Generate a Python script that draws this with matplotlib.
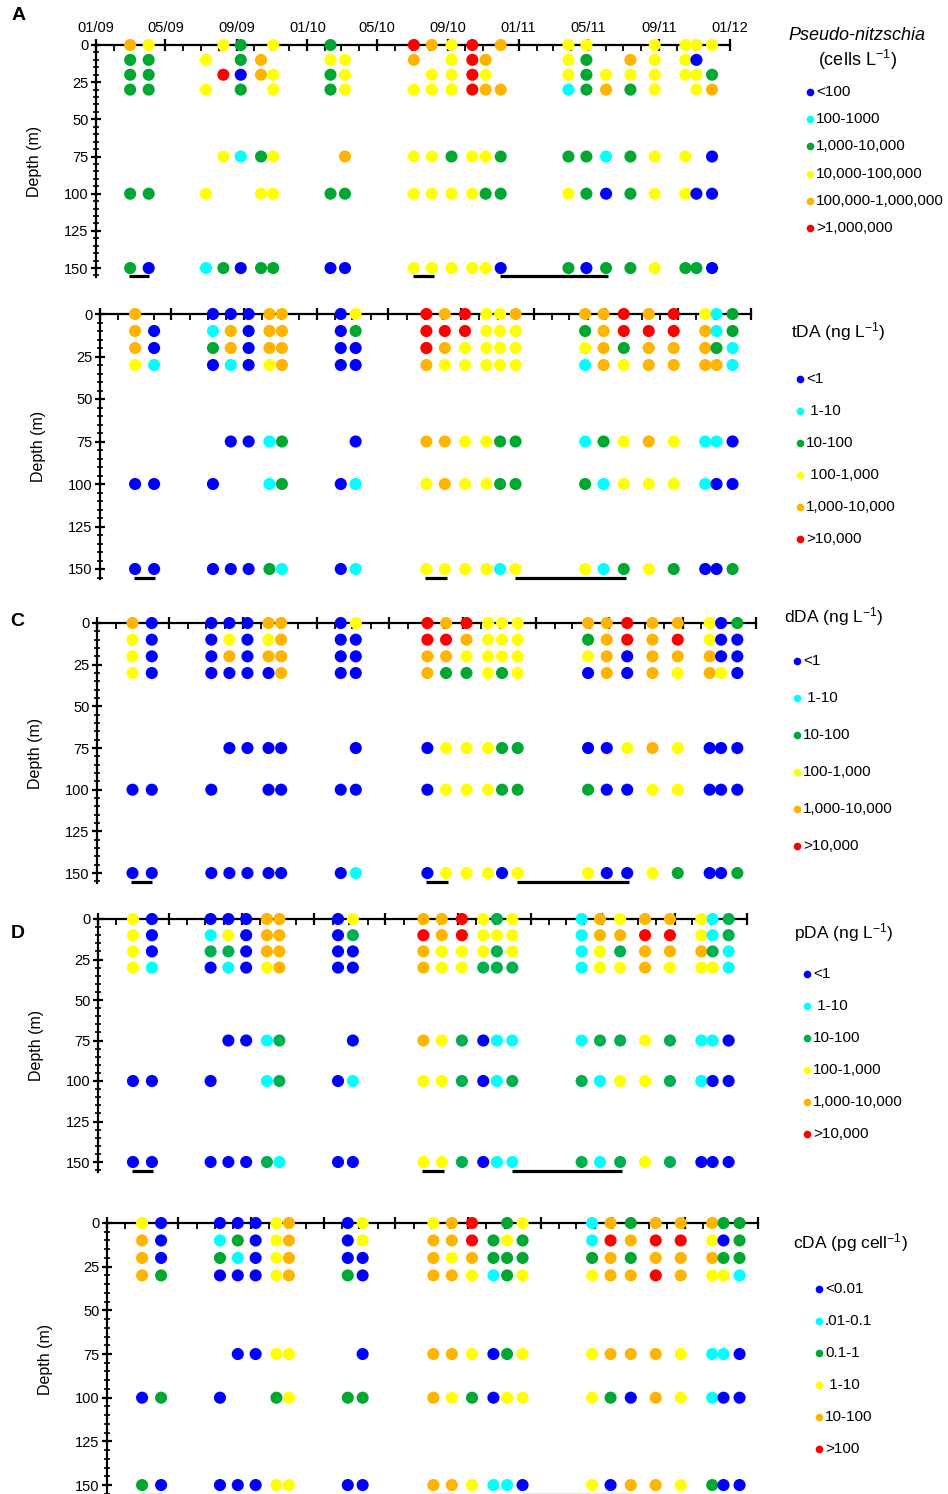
import datetime as dt
import matplotlib
matplotlib.use('Agg')
import matplotlib.pyplot as plt
import matplotlib.dates as mdates
from matplotlib.ticker import MultipleLocator

plt.rcParams['font.family'] = ['Liberation Sans', 'DejaVu Sans']
plt.rcParams['mathtext.fontset'] = 'custom'
plt.rcParams['mathtext.rm'] = 'Liberation Sans'
plt.rcParams['mathtext.it'] = 'Liberation Sans:italic'

# cruise dates and sampled depths
cruise_dates = ['2009-03-01', '2009-04-02', '2009-07-10', '2009-08-09', '2009-09-08',
                '2009-10-13', '2009-11-03', '2010-02-10', '2010-03-07', '2010-07-04',
                '2010-08-04', '2010-09-07', '2010-10-13', '2010-11-05', '2010-12-01',
                '2011-03-28', '2011-04-28', '2011-06-01', '2011-07-13', '2011-08-24',
                '2011-10-16', '2011-11-04', '2011-12-01']
depths = [0, 10, 20, 30, 75, 100, 150]

# concentration class per cruise, one string per depth (0 = lowest class, '.' = no sample)
pn_cells = ['43.32.32.5435.433..3333',
            '223.24.334.354.32.4330.',
            '22.504323.3353.32333332',
            '223.2.32333354412423.34',
            '...3123.4332332221233.0',
            '223..332233332232023300',
            '20120220033333020223220']
tda = ['4.000440354533444545312',
       '40140440255533324555412',
       '40240440054333334244421',
       '31010340043333314344441',
       '...0012.044332212343110',
       '000..120134332221333100',
       '00000210133331331232002']
dda = ['40000440354533344544302',
       '30030340055433324545300',
       '30040440044333334044400',
       '30000040042232304043430',
       '...0000.003332200343000',
       '000..000003332220033000',
       '00000000103330330032002']
pda = ['30000440344532314344312',
       '30130440254533314455312',
       '30220440043332313244421',
       '31010340043322213343331',
       '...0012.043201112232110',
       '000..120133201221332100',
       '00000210033201121232000']
cda = ['300003403345.2314244422',
       '40120340344523215455302',
       '40210340043422224244422',
       '42000342044312334454331',
       '...0033.044302334443110',
       '020..232243203332043100',
       '20000330044311030443200']

pn_labels = ['<100', '100-1000', '1,000-10,000', '10,000-100,000',
             '100,000-1,000,000', '>1,000,000']
tda_labels = ['<1', ' 1-10', '10-100', ' 100-1,000', '1,000-10,000', '>10,000']
dda_labels = ['<1', ' 1-10', '10-100', '100-1,000', '1,000-10,000', '>10,000']
pda_labels = ['<1', ' 1-10', '10-100', '100-1,000', '1,000-10,000', '>10,000']
cda_labels = ['<0.01', '.01-0.1', '0.1-1', ' 1-10', '10-100', '>100']

# periods marked with a bar under the deepest samples
bar_periods = [('2009-02-27', '2009-04-03'), ('2010-07-02', '2010-08-08'),
               ('2010-11-30', '2011-06-04')]

W, H = 948, 1494
fig = plt.figure(figsize=(W / 100, H / 100), dpi=100)

dates = [dt.date.fromisoformat(d) for d in cruise_dates]


def panel(codes, box, green, show_dates=False):
    left, right, top, scale = box
    bottom = top + 156 * scale
    ax = fig.add_axes([left / W, 1 - bottom / H, (right - left) / W, (bottom - top) / H])
    ax.patch.set_alpha(0)
    cols = ['#0000ff', '#00ffff', green, '#ffff00', '#ffb400', '#ff0000']

    xs, ys, cs = [], [], []
    for d, row in zip(depths, codes):
        for t, c in zip(dates, row):
            if c != '.':
                xs.append(t)
                ys.append(d)
                cs.append(cols[int(c)])
    ax.scatter(xs, ys, s=76, c=cs, linewidths=0, zorder=4, clip_on=False)

    for a, b in bar_periods:
        ax.plot([dt.date.fromisoformat(a), dt.date.fromisoformat(b)], [155.5, 155.5],
                color='black', lw=2.3, solid_capstyle='butt', clip_on=False)

    ax.set_xlim(dt.date(2009, 1, 1), dt.date(2012, 1, 1))
    ax.set_ylim(156, 0)
    ax.spines['right'].set_visible(False)
    ax.spines['bottom'].set_visible(False)
    ax.spines['top'].set_linewidth(1.6)
    ax.spines['left'].set_linewidth(1.6)

    ax.xaxis.tick_top()
    ax.xaxis.set_major_locator(mdates.MonthLocator(bymonth=[1, 5, 9]))
    ax.xaxis.set_minor_locator(mdates.MonthLocator())
    ax.xaxis.set_major_formatter(mdates.DateFormatter('%m/%y'))
    ax.tick_params(axis='x', which='major', direction='inout', length=9, width=1.6,
                   labelsize=10.5, pad=3, labeltop=show_dates, colors='black')
    ax.tick_params(axis='x', which='minor', direction='in', length=4, width=1.3)
    ax.yaxis.set_major_locator(MultipleLocator(25))
    ax.yaxis.set_minor_locator(MultipleLocator(5))
    ax.tick_params(axis='y', which='major', direction='inout', length=7, width=1.6,
                   labelsize=10.5, pad=2)
    ax.tick_params(axis='y', which='minor', direction='inout', length=4, width=1.2)
    ax.set_ylabel('Depth (m)', fontsize=11.5)
    ax.yaxis.set_label_coords(-54 / (right - left), 0.5)
    return ax


panel(pn_cells, (96, 730, 45, 1.487), '#00a832', show_dates=True)
panel(tda, (100, 751, 314, 1.70), '#00a832')
panel(dda, (97, 756, 623, 1.667), '#00a832')
panel(pda, (98, 747, 919, 1.62), '#00b050')
panel(cda, (107, 758, 1223, 1.747), '#00a832')

# overlay in pixel units for keys and panel letters
lay = fig.add_axes([0, 0, 1, 1])
lay.set_xlim(0, W)
lay.set_ylim(H, 0)
lay.axis('off')


def key(labels, green, xdot, y0, dy):
    cols = ['#0000ff', '#00ffff', green, '#ffff00', '#ffb400', '#ff0000']
    for i, (lab, col) in enumerate(zip(labels, cols)):
        y = y0 + i * dy
        lay.plot(xdot, y, 'o', ms=5.5, mfc=col, mec='none')
        lay.text(xdot + 6, y, lab, fontsize=11, va='center', ha='left')


lay.text(857, 35, 'Pseudo-nitzschia', fontsize=13, style='italic', ha='center', va='center')
lay.text(857, 60, '(cells L$^{-1}$)', fontsize=13, ha='center', va='center')
key(pn_labels, '#00a832', 810, 92, 27.2)

lay.text(838, 332, 'tDA (ng L$^{-1}$)', fontsize=12.5, ha='center', va='center')
key(tda_labels, '#00a832', 800, 379, 32)

lay.text(834, 617, 'dDA (ng L$^{-1}$)', fontsize=12.5, ha='center', va='center')
key(dda_labels, '#00a832', 797, 661, 37)

lay.text(844, 933, 'pDA (ng L$^{-1}$)', fontsize=12.5, ha='center', va='center')
key(pda_labels, '#00b050', 807, 974, 32)

lay.text(850, 1243, 'cDA (pg cell$^{-1}$)', fontsize=12.5, ha='center', va='center')
key(cda_labels, '#00a832', 819, 1289, 32)

for letter, x, y in [('A', 19, 15), ('C', 17, 622), ('D', 18, 933)]:
    lay.text(x, y, letter, fontsize=14, fontweight='bold', ha='center', va='center')

fig.savefig('out.png', dpi=100)
